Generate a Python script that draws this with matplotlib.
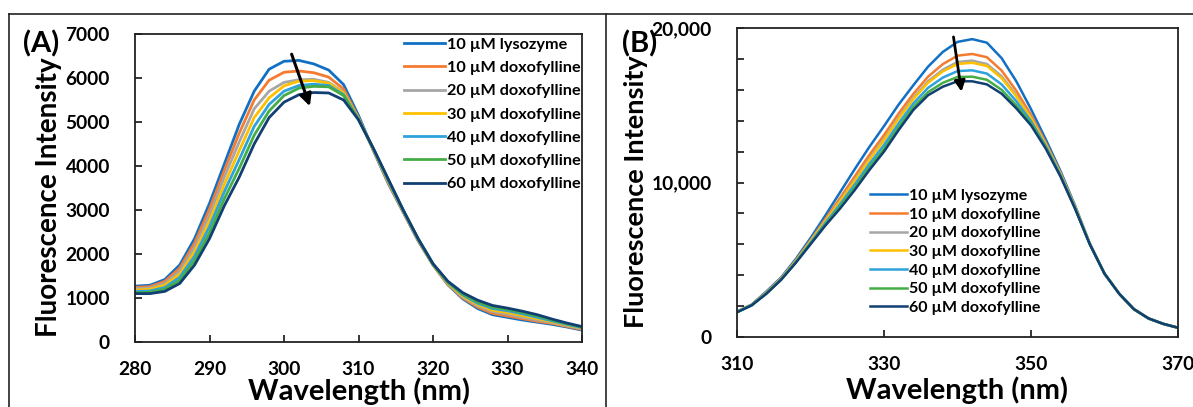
import matplotlib
matplotlib.use("Agg")
import matplotlib.pyplot as plt
from matplotlib.lines import Line2D
from matplotlib.ticker import FixedLocator, FixedFormatter

plt.rcParams['font.family'] = ['Lato', 'DejaVu Sans']
plt.rcParams['font.weight'] = 'bold'

labels = ['10 µM lysozyme', '10 µM doxofylline', '20 µM doxofylline',
          '30 µM doxofylline', '40 µM doxofylline', '50 µM doxofylline',
          '60 µM doxofylline']
colors = ['#1170C4', '#F47B2F', '#A6A6A6', '#FFC000', '#2EA2DC', '#45AD45', '#123F73']

# panel A: 280-340 nm, 2 nm steps
wl_a = list(range(280, 341, 2))
a_lys = [1270, 1290, 1420, 1750, 2350, 3150, 4050, 4950, 5700, 6200, 6380, 6400, 6320, 6180, 5850, 5150,
         4350, 3600, 2950, 2300, 1750, 1300, 980, 760, 620, 560, 500, 450, 400, 340, 270]
a_d10 = [1240, 1260, 1380, 1680, 2250, 3020, 3900, 4750, 5500, 5950, 6130, 6160, 6120, 6020, 5750, 5100,
         4360, 3620, 2960, 2310, 1750, 1310, 1000, 790, 650, 590, 530, 470, 420, 355, 285]
a_d20 = [1210, 1230, 1330, 1610, 2150, 2880, 3750, 4550, 5300, 5700, 5900, 5960, 5970, 5900, 5680, 5080,
         4370, 3640, 2970, 2320, 1760, 1320, 1020, 820, 690, 630, 560, 500, 440, 370, 300]
a_d30 = [1180, 1200, 1290, 1540, 2050, 2750, 3580, 4350, 5100, 5550, 5820, 5930, 5940, 5880, 5660, 5070,
         4380, 3650, 2980, 2330, 1760, 1330, 1040, 850, 720, 670, 600, 530, 460, 385, 315]
a_d40 = [1150, 1160, 1240, 1470, 1950, 2620, 3420, 4150, 4900, 5400, 5700, 5830, 5860, 5830, 5620, 5060,
         4390, 3670, 2990, 2340, 1770, 1350, 1070, 880, 760, 710, 640, 560, 480, 400, 325]
a_d50 = [1120, 1130, 1200, 1400, 1850, 2480, 3260, 3950, 4700, 5250, 5600, 5770, 5810, 5800, 5600, 5060,
         4390, 3690, 3000, 2350, 1770, 1360, 1090, 910, 790, 740, 670, 590, 500, 415, 340]
a_d60 = [1100, 1100, 1150, 1330, 1750, 2350, 3100, 3750, 4500, 5100, 5450, 5620, 5670, 5660, 5500, 5050,
         4400, 3700, 3000, 2350, 1780, 1380, 1120, 950, 830, 770, 700, 620, 520, 430, 350]

# panel B: 310-370 nm, 2 nm steps
wl_b = list(range(310, 371, 2))
b_lys = [1650, 2100, 2950, 3850, 5050, 6400, 7850, 9350, 10850, 12300, 13650, 15050, 16300, 17500, 18450, 19100,
         19280, 19050, 18050, 16550, 14750, 12800, 10750, 8500, 6050, 4100, 2800, 1800, 1200, 850, 600]
b_d10 = [1630, 2080, 2900, 3800, 4960, 6260, 7620, 8980, 10380, 11780, 13070, 14470, 15740, 16850, 17660, 18210,
         18320, 18110, 17250, 15940, 14380, 12590, 10630, 8430, 6030, 4100, 2800, 1800, 1200, 850, 600]
b_d20 = [1625, 2075, 2875, 3775, 4920, 6200, 7520, 8810, 10160, 11540, 12810, 14210, 15480, 16560, 17300, 17800,
         17890, 17670, 16880, 15660, 14210, 12490, 10570, 8400, 6025, 4100, 2800, 1800, 1200, 850, 600]
b_d30 = [1620, 2070, 2865, 3765, 4910, 6180, 7490, 8760, 10090, 11460, 12730, 14130, 15400, 16460, 17190, 17670,
         17750, 17540, 16760, 15570, 14160, 12460, 10550, 8390, 6020, 4100, 2800, 1800, 1200, 850, 600]
b_d40 = [1615, 2065, 2840, 3740, 4865, 6100, 7370, 8570, 9850, 11190, 12430, 13830, 15120, 16130, 16790, 17210,
         17260, 17050, 16350, 15260, 13970, 12360, 10490, 8350, 6015, 4100, 2800, 1800, 1200, 850, 600]
b_d50 = [1605, 2055, 2815, 3715, 4830, 6045, 7270, 8420, 9650, 10960, 12180, 13580, 14880, 15850, 16450, 16830,
         16850, 16650, 16000, 14990, 13820, 12270, 10440, 8320, 6005, 4100, 2800, 1800, 1200, 850, 600]
b_d60 = [1600, 2050, 2800, 3700, 4800, 6000, 7200, 8300, 9500, 10800, 12000, 13400, 14700, 15650, 16200, 16550,
         16550, 16350, 15750, 14800, 13700, 12200, 10400, 8300, 6000, 4100, 2800, 1800, 1200, 850, 600]

a_series = [a_lys, a_d10, a_d20, a_d30, a_d40, a_d50, a_d60]
b_series = [b_lys, b_d10, b_d20, b_d30, b_d40, b_d50, b_d60]

a_xticks = [280, 290, 300, 310, 320, 330, 340]
a_yticks = [0, 1000, 2000, 3000, 4000, 5000, 6000, 7000]
b_xticks = [310, 330, 350, 370]
b_yticks = [0, 2000, 4000, 6000, 8000, 10000, 12000, 14000, 16000, 18000, 20000]
b_ylabels = ['0', '', '', '', '', '10,000', '', '', '', '', '20,000']

# arrows (start, end) in data units
arrow_a = ((300.9, 6600), (303.6, 5300))
arrow_b = ((339.4, 19600), (340.6, 15700))

W, H = 1193, 407
fig = plt.figure(figsize=(W / 100, H / 100), dpi=100)


def frac(l, t, r, b):
    return [l / W, (H - b) / H, (r - l) / W, (b - t) / H]


def style(ax):
    for s in ax.spines.values():
        s.set_linewidth(1.3)
        s.set_color('#222222')
    ax.tick_params(direction='in', length=5, width=1.1, labelsize=13.8, pad=14)
    ax.tick_params(axis='y', pad=18)
    for t in ax.get_xticklabels() + ax.get_yticklabels():
        t.set_fontweight('bold')


# panel A
ax1 = fig.add_axes(frac(135, 34, 582, 342))
for ys, c, lab in zip(a_series, colors, labels):
    ax1.plot(wl_a, ys, color=c, lw=2.0, label=lab)
ax1.set_xlim(280, 340)
ax1.set_ylim(0, 7000)
ax1.set_xticks(a_xticks)
ax1.set_yticks(a_yticks)
style(ax1)
ax1.set_xlabel('Wavelength (nm)', fontsize=21, fontweight='bold')
ax1.set_ylabel('Fluorescence Intensity', fontsize=20, fontweight='bold')
ax1.xaxis.set_label_coords(0.5, -0.116)
ax1.yaxis.set_label_coords(-0.163, 0.47)
ax1.annotate('', xy=arrow_a[1], xytext=arrow_a[0],
             arrowprops=dict(arrowstyle='-|>', color='black', lw=2.2, mutation_scale=18))
ax1.legend(loc='upper left', bbox_to_anchor=(0.595, 1.0), frameon=False, fontsize=11.7,
           handlelength=2.5, handletextpad=0.15, labelspacing=0.55, borderpad=0.2,
           borderaxespad=0)

# panel B
ax2 = fig.add_axes(frac(737, 28, 1178, 337))
for ys, c, lab in zip(b_series, colors, labels):
    ax2.plot(wl_b, ys, color=c, lw=1.8, label=lab)
ax2.set_xlim(310, 370)
ax2.set_ylim(0, 20000)
ax2.set_xticks(b_xticks)
ax2.yaxis.set_major_locator(FixedLocator(b_yticks))
ax2.yaxis.set_major_formatter(FixedFormatter(b_ylabels))
style(ax2)
ax2.set_xlabel('Wavelength (nm)', fontsize=21, fontweight='bold')
ax2.set_ylabel('Fluorescence Intensity', fontsize=19.5, fontweight='bold')
ax2.xaxis.set_label_coords(0.5, -0.126)
ax2.yaxis.set_label_coords(-0.202, 0.47)
ax2.annotate('', xy=arrow_b[1], xytext=arrow_b[0],
             arrowprops=dict(arrowstyle='-|>', color='black', lw=2.0, mutation_scale=16))
ax2.legend(loc='upper left', bbox_to_anchor=(0.294, 0.49), frameon=False, fontsize=11.5,
           handlelength=2.3, handletextpad=0.15, labelspacing=0.28, borderpad=0.2,
           borderaxespad=0)

fig.text(41 / W, 1 - 44 / H, '(A)', fontsize=21, fontweight='bold', ha='center', va='center')
fig.text(640 / W, 1 - 44 / H, '(B)', fontsize=21, fontweight='bold', ha='center', va='center')

# outer frame lines
fig.add_artist(Line2D([9 / W, 1], [1 - 14 / H, 1 - 14 / H], color='#222222', lw=1.2))
fig.add_artist(Line2D([9 / W, 9 / W], [0, 1 - 14 / H], color='#222222', lw=1.2))
fig.add_artist(Line2D([606 / W, 606 / W], [0, 1 - 14 / H], color='#222222', lw=1.2))

fig.savefig('out.png', dpi=100)
